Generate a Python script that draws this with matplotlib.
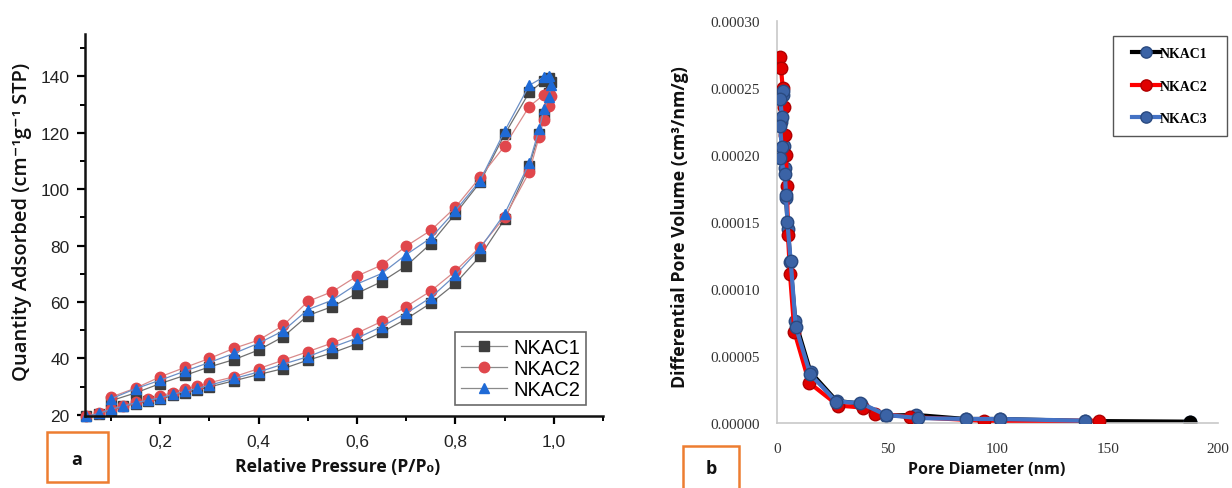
import matplotlib
matplotlib.use("Agg")
import matplotlib.pyplot as plt
from matplotlib.patches import Rectangle
from matplotlib.ticker import MultipleLocator, FuncFormatter

# ---------------- Panel a: N2 isotherms ----------------
ads_p = [0.05, 0.075, 0.1, 0.125, 0.15, 0.175, 0.2, 0.225, 0.25, 0.275, 0.3, 0.35, 0.4,
         0.45, 0.5, 0.55, 0.6, 0.65, 0.7, 0.75, 0.8, 0.85, 0.9, 0.95, 0.97, 0.98, 0.99, 0.995]
ads_nkac1 = [19.5, 20.4, 21.8, 23.0, 24.0, 24.9, 25.5, 26.9, 27.9, 28.9, 29.9, 32.1, 34.3,
             36.4, 39.4, 42.0, 45.2, 49.2, 54.0, 59.6, 66.6, 76.2, 89.3, 108.3, 119.5, 126.5, 134.0, 138.0]
ads_nkac2 = [19.5, 20.6, 22.2, 23.2, 24.6, 25.5, 26.7, 27.9, 29.3, 30.1, 31.4, 33.5, 36.4,
             39.4, 42.4, 45.5, 49.0, 53.1, 58.4, 63.9, 71.0, 79.5, 90.0, 106.0, 118.5, 124.5, 129.5, 133.0]
ads_nkac3 = [19.5, 20.5, 22.0, 23.1, 24.3, 25.2, 26.0, 27.3, 28.3, 29.4, 30.5, 32.9, 35.2,
             38.0, 40.6, 44.0, 47.2, 51.3, 56.0, 61.6, 69.5, 79.0, 91.3, 109.1, 121.2, 128.3, 132.5, 137.0]

des_p = [0.99, 0.98, 0.95, 0.9, 0.85, 0.8, 0.75, 0.7, 0.65, 0.6, 0.55, 0.5, 0.45, 0.4,
         0.35, 0.3, 0.25, 0.2, 0.15, 0.1]
des_nkac1 = [139.5, 138.5, 134.3, 119.4, 102.4, 91.3, 80.7, 72.8, 67.2, 63.1, 58.4, 55.2, 47.7,
             43.0, 39.6, 37.0, 34.0, 31.1, 27.8, 25.0]
des_nkac2 = [134.0, 133.5, 129.3, 115.3, 104.2, 93.6, 85.4, 79.8, 73.1, 69.2, 63.7, 60.2, 51.7,
             46.5, 43.6, 40.0, 36.8, 33.5, 29.5, 26.3]
des_nkac3 = [140.2, 139.8, 136.8, 120.6, 103.0, 92.4, 82.7, 76.8, 70.1, 66.4, 60.7, 57.3, 49.8,
             45.4, 41.8, 38.6, 35.5, 32.3, 29.3, 25.7]
labels_a = ["NKAC1", "NKAC2", "NKAC2"]

# ---------------- Panel b: pore size distribution ----------------
d_nkac1 = [2.5, 2.0, 3.0, 3.6, 4.1, 5.0, 6.0, 8.3, 15.2, 27.0, 38.0, 49.5, 63.0, 85.5, 101.0, 139.5, 187.3]
v_nkac1 = [2.45e-4, 2.25e-4, 2.07e-4, 1.90e-4, 1.68e-4, 1.45e-4, 1.20e-4, 7.6e-5, 3.8e-5,
           1.65e-5, 1.45e-5, 5.5e-6, 6.0e-6, 3.0e-6, 3.0e-6, 1.5e-6, 1.0e-6]
d_nkac2 = [1.4, 1.8, 2.6, 3.2, 3.6, 4.1, 4.5, 5.0, 5.9, 7.9, 14.6, 27.8, 39.0, 44.5, 60.5, 94.0, 146.0]
v_nkac2 = [2.73e-4, 2.65e-4, 2.50e-4, 2.36e-4, 2.15e-4, 2.00e-4, 1.77e-4, 1.40e-4, 1.11e-4,
           6.8e-5, 3.0e-5, 1.3e-5, 1.15e-5, 7.0e-6, 4.5e-6, 1.7e-6, 1.7e-6]
d_nkac3 = [2.6, 1.4, 2.3, 1.4, 2.1, 1.4, 3.6, 4.1, 4.7, 6.2, 8.5, 15.0, 26.8, 37.7, 49.5, 64.0,
           85.5, 101.0, 139.5]
v_nkac3 = [2.48e-4, 2.42e-4, 2.28e-4, 2.22e-4, 2.06e-4, 1.98e-4, 1.86e-4, 1.70e-4, 1.50e-4,
           1.21e-4, 7.2e-5, 3.66e-5, 1.6e-5, 1.5e-5, 6.0e-6, 3.7e-6, 3.0e-6, 3.0e-6, 1.7e-6]
labels_b = ["NKAC1", "NKAC2", "NKAC3"]

W, H = 1232, 489
fig = plt.figure(figsize=(W / 100, H / 100), dpi=100)

def fx(px):
    return px / W

def fy(py):
    return 1 - py / H

# ----- left axes -----
ax1 = fig.add_axes([fx(85), fy(417), (603 - 85) / W, (417 - 35) / H])
styles = [
    dict(marker="s", mfc="#3d3d3d", mec="#3d3d3d", color="#707070"),
    dict(marker="o", mfc="#e0474c", mec="#e0474c", color="#d98a8a"),
    dict(marker="^", mfc="#1f6ad6", mec="#1f6ad6", color="#6b8fc6"),
]
series_a = [(ads_nkac1, des_nkac1), (ads_nkac2, des_nkac2), (ads_nkac3, des_nkac3)]
for (ads, des), st, lab in zip(series_a, styles, labels_a):
    ax1.plot(ads_p + des_p, ads + des, lw=0.9, ms=7.5, label=lab, clip_on=False, **st)

ax1.set_xlim(0.047, 1.1)
ax1.set_ylim(19.6, 155)
for s in ["top", "right"]:
    ax1.spines[s].set_visible(False)
for s in ["left", "bottom"]:
    ax1.spines[s].set_linewidth(1.8)
    ax1.spines[s].set_color("#111111")
ax1.xaxis.set_major_locator(MultipleLocator(0.2))
ax1.xaxis.set_minor_locator(MultipleLocator(0.1))
ax1.yaxis.set_major_locator(MultipleLocator(20))
ax1.yaxis.set_minor_locator(MultipleLocator(10))
ax1.xaxis.set_major_formatter(FuncFormatter(lambda v, p: f"{v:.1f}".replace(".", ",")))
ax1.yaxis.set_major_formatter(FuncFormatter(lambda v, p: f"{v:.0f}"))
ax1.tick_params(which="major", direction="out", length=6, width=1.6, labelsize=12.5,
                labelcolor="#222222", pad=5)
ax1.tick_params(which="minor", direction="out", length=3.5, width=1.4)
ax1.tick_params(axis="x", which="major", pad=7)
for t in ax1.get_xticklabels() + ax1.get_yticklabels():
    t.set_fontfamily("Liberation Sans")

leg1 = ax1.legend(loc="upper left", bbox_to_anchor=(fx(455), fy(333)),
                  bbox_transform=fig.transFigure, frameon=True, fancybox=False,
                  prop={"family": "Liberation Sans", "size": 14.5},
                  handlelength=2.3, handletextpad=0.3, labelspacing=0.1,
                  borderpad=0.3, borderaxespad=0)
leg1.get_frame().set_edgecolor("#444444")
leg1.get_frame().set_linewidth(1.2)
for h in leg1.get_lines():
    h.set_color("#8a8a8a")

fig.text(fx(22), fy(222), "Quantity Adsorbed (cm⁻¹g⁻¹ STP)", rotation=90,
         ha="center", va="center", fontsize=14.5, fontweight="semibold",
         family=["Open Sans", "DejaVu Sans"], color="#111111")
fig.text(fx(338), fy(467), "Relative Pressure (P/P₀)", ha="center", va="center",
         fontsize=12.6, fontweight="bold", family=["Open Sans", "DejaVu Sans"], color="#111111")

# ----- right axes -----
ax2 = fig.add_axes([fx(777), fy(424), (1218 - 777) / W, (424 - 22) / H])
blue = "#4472c4"
mblue = "#3b63a6"
ax2.plot(d_nkac1, v_nkac1, color="black", lw=3, marker="o", ms=9,
         mfc=mblue, mec="#2a4a80", label=labels_b[0], zorder=2)
ax2.plot(d_nkac1[-1:], v_nkac1[-1:], ls="none", marker="o", ms=9,
         mfc="black", mec="black", zorder=2)
ax2.plot(d_nkac2, v_nkac2, color="#ff0000", lw=3, marker="o", ms=9,
         mfc="#e00000", mec="#b00000", label=labels_b[1], zorder=3)
ax2.plot(d_nkac3, v_nkac3, color=blue, lw=3, marker="o", ms=9,
         mfc=mblue, mec="#2a4a80", label=labels_b[2], zorder=4)
ax2.set_xlim(0, 200)
ax2.set_ylim(0, 0.0003)
ax2.xaxis.set_major_locator(MultipleLocator(50))
ax2.yaxis.set_major_locator(MultipleLocator(0.00005))
ax2.yaxis.set_major_formatter(FuncFormatter(lambda v, p: f"{v:.5f}"))
ax2.xaxis.set_major_formatter(FuncFormatter(lambda v, p: f"{v:.0f}"))
for s in ["top", "right"]:
    ax2.spines[s].set_visible(False)
for s in ["left", "bottom"]:
    ax2.spines[s].set_color("#c8c8c8")
    ax2.spines[s].set_linewidth(1.2)
ax2.tick_params(length=0, labelsize=11, labelcolor="#333333")
ax2.tick_params(axis="y", pad=12)
ax2.tick_params(axis="x", pad=14)
for t in ax2.get_xticklabels() + ax2.get_yticklabels():
    t.set_fontfamily("Liberation Serif")

# legend frame drawn as a fixed box, entries centred inside it
fig.patches.append(Rectangle((fx(1113), fy(137)), (1227 - 1113) / W, (137 - 37) / H,
                             transform=fig.transFigure, fill=False, ec="#555555", lw=1.0))
leg2 = ax2.legend(loc="center", bbox_to_anchor=(fx(1170), fy(87)),
                  bbox_transform=fig.transFigure, frameon=False,
                  prop={"family": "Liberation Serif", "size": 10, "weight": "bold"},
                  handlelength=2.0, handletextpad=0.0, labelspacing=1.4,
                  borderpad=0.0, borderaxespad=0, markerscale=0.9)

fig.text(fx(680), fy(227), "Differential Pore Volume (cm³/nm/g)", rotation=90,
         ha="center", va="center", fontsize=12.8, fontweight="bold",
         family=["Open Sans", "DejaVu Sans"], color="#111111")
fig.text(fx(987), fy(470), "Pore Diameter (nm)", ha="center", va="center",
         fontsize=11.5, fontweight="bold", family=["Open Sans", "DejaVu Sans"], color="#111111")

# ----- panel tags -----
orange = "#ed7d31"
fig.patches.append(Rectangle((fx(47), fy(483)), (108 - 47) / W, (483 - 433) / H,
                             transform=fig.transFigure, fill=False, ec=orange, lw=1.8))
fig.text(fx(77), fy(460), "a", ha="center", va="center", fontsize=13, fontweight="bold",
         family="Open Sans", color="#111111")
fig.patches.append(Rectangle((fx(683), fy(495)), (739 - 683) / W, (495 - 447) / H,
                             transform=fig.transFigure, fill=False, ec=orange, lw=1.8))
fig.text(fx(711), fy(469), "b", ha="center", va="center", fontsize=13, fontweight="bold",
         family="Open Sans", color="#111111")

fig.savefig("out.png", dpi=100)
